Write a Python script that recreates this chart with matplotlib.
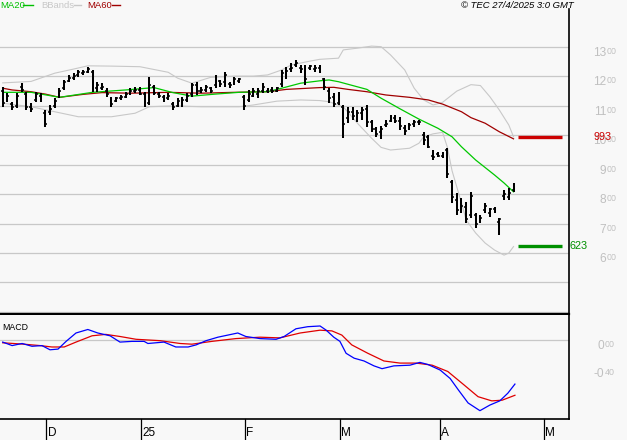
import numpy as np
import matplotlib.pyplot as plt
from matplotlib import transforms
from matplotlib.lines import Line2D

# --- данные (OHLC по торговым дням) ---
high = [1165, 1143, 1114, 1143, 1178, 1147, 1110, 1147, 1143, 1086,
        1103, 1127, 1161, 1188, 1205, 1212, 1222, 1222, 1232, 1222,
        1182, 1178, 1161, 1130, 1130, 1137, 1147, 1161, 1164, 1164,
        1147, 1198, 1171, 1147, 1137, 1143, 1113, 1127, 1130, 1143,
        1178, 1181, 1164, 1171, 1164, 1205, 1188, 1215, 1181, 1198,
        1195, 1137, 1154, 1161, 1161, 1178, 1161, 1164, 1164, 1222,
        1232, 1246, 1256, 1239, 1239, 1239, 1239, 1239, 1195, 1161,
        1143, 1147, 1103, 1096, 1096, 1086, 1096, 1103, 1052, 1028,
        1030, 1052, 1069, 1069, 1062, 1035, 1042, 1052, 1052, 1011,
        1001, 950, 943, 943, 957, 848, 804, 787, 773, 807,
        736, 729, 770, 753, 756, 719, 814, 821, 838]
low = [1097, 1114, 1086, 1093, 1147, 1086, 1079, 1113, 1113, 1028,
       1069, 1093, 1127, 1154, 1181, 1188, 1198, 1205, 1212, 1147,
       1148, 1154, 1130, 1096, 1113, 1120, 1127, 1137, 1143, 1137,
       1096, 1103, 1137, 1127, 1113, 1120, 1086, 1096, 1096, 1113,
       1130, 1137, 1143, 1147, 1143, 1161, 1164, 1164, 1161, 1171,
       1178, 1086, 1113, 1130, 1127, 1143, 1143, 1143, 1147, 1164,
       1192, 1215, 1232, 1212, 1171, 1222, 1215, 1212, 1154, 1110,
       1096, 1103, 991, 1042, 1052, 1045, 1052, 1028, 1011, 994,
       988, 1028, 1045, 1042, 1018, 1001, 1018, 1028, 1035, 967,
       957, 916, 926, 923, 855, 770, 729, 736, 702, 719,
       685, 702, 736, 722, 736, 661, 780, 780, 807]
opens = [1150, 1120, 1105, 1100, 1165, 1140, 1095, 1120, 1135, 1075,
         1080, 1100, 1135, 1160, 1185, 1195, 1205, 1210, 1215, 1215,
         1160, 1160, 1150, 1125, 1115, 1125, 1130, 1140, 1150, 1155,
         1140, 1110, 1165, 1140, 1130, 1125, 1105, 1100, 1105, 1120,
         1140, 1170, 1150, 1155, 1160, 1170, 1185, 1180, 1175, 1180,
         1185, 1130, 1120, 1135, 1140, 1150, 1150, 1155, 1150, 1175,
         1200, 1225, 1240, 1230, 1220, 1230, 1225, 1230, 1190, 1150,
         1130, 1110, 1095, 1060, 1080, 1060, 1075, 1090, 1045, 1020,
         1010, 1035, 1050, 1060, 1050, 1025, 1030, 1040, 1045, 1000,
         995, 930, 935, 930, 950, 840, 780, 765, 755, 730,
         730, 715, 745, 735, 750, 705, 795, 790, 815]
close = [1110, 1135, 1095, 1135, 1155, 1095, 1090, 1140, 1120, 1040,
         1090, 1115, 1150, 1180, 1195, 1200, 1215, 1215, 1225, 1155,
         1170, 1165, 1140, 1105, 1125, 1130, 1140, 1150, 1155, 1140,
         1105, 1170, 1145, 1135, 1120, 1135, 1095, 1115, 1120, 1135,
         1170, 1150, 1155, 1165, 1150, 1195, 1175, 1205, 1170, 1190,
         1190, 1100, 1140, 1150, 1150, 1165, 1155, 1150, 1160, 1210,
         1220, 1230, 1245, 1225, 1190, 1235, 1230, 1220, 1165, 1125,
         1105, 1135, 1040, 1080, 1065, 1075, 1085, 1045, 1020, 1005,
         1020, 1040, 1060, 1050, 1030, 1015, 1035, 1045, 1045, 985,
         960, 925, 930, 930, 870, 790, 745, 760, 715, 795,
         700, 720, 760, 750, 745, 715, 800, 805, 830]

# индикаторы (индекс дня, значение)
ma20_x = [0, 6, 12, 19, 26, 32, 36, 40, 45, 50, 56, 59, 63, 67, 69, 71,
          77, 80, 84, 88, 92, 95, 97, 100, 104, 106, 108]
ma20_y = [1146, 1146, 1129, 1146, 1154, 1162, 1145, 1133, 1140, 1146, 1148,
          1160, 1177, 1185, 1188, 1182, 1156, 1126, 1090, 1055, 1024, 995,
          961, 916, 865, 838, 808]
ma60_x = [0, 2, 6, 9, 12, 17, 21, 27, 35, 42, 49, 56, 60, 67, 70, 73,
          77, 81, 86, 90, 93, 97, 99, 102, 105, 108]
ma60_y = [1160, 1154, 1148, 1140, 1129, 1139, 1145, 1143, 1146, 1143, 1146,
          1148, 1156, 1162, 1163, 1156, 1148, 1137, 1129, 1120, 1106, 1080,
          1060, 1041, 1012, 988]
bbu_x = [0, 6, 11, 15, 18, 23, 29, 35, 37, 40, 44, 49, 53, 56, 59, 61,
         65, 67, 71, 72, 75, 78, 80, 82, 85, 87, 89, 91, 93, 96, 99, 101,
         103, 105, 107, 108]
bbu_y = [1178, 1183, 1211, 1225, 1236, 1235, 1233, 1214, 1194, 1177, 1197,
         1201, 1201, 1205, 1222, 1239, 1252, 1258, 1262, 1290, 1296, 1303,
         1301, 1273, 1222, 1160, 1120, 1103, 1112, 1150, 1172, 1169, 1131,
         1086, 1035, 995]
bbl_x = [0, 6, 11, 16, 23, 28, 31, 36, 42, 50, 53, 58, 63, 67, 69, 72,
         75, 78, 80, 82, 86, 88, 89, 91, 93, 94, 95, 97, 98, 100, 102,
         104, 106, 107, 108]
bbl_y = [1109, 1097, 1080, 1063, 1063, 1075, 1097, 1100, 1097, 1097, 1103,
         1116, 1120, 1118, 1114, 1097, 1041, 990, 959, 950, 956, 973, 995,
         1005, 1010, 960, 880, 770, 712, 668, 634, 610, 593, 600, 622]

macd_x = [0, 2, 4.1, 6.2, 8.3, 10, 11.7, 13.4, 15.5, 18, 20.1, 22.7, 24.8,
          27.3, 29.9, 30.7, 34.1, 36.6, 39.2, 40.9, 43, 45.5, 47.6, 49.7,
          51.4, 54.4, 57.8, 59.5, 62, 64.5, 67.1, 68.4, 70, 71.3, 72.6,
          74.3, 76.4, 78.5, 80.2, 82.7, 86.1, 88.2, 89.9, 92.5, 94.6, 96.3,
          98.4, 100.9, 103, 105.1, 106.8, 108.3]
macd_y = [-0.03, -0.08, -0.05, -0.09, -0.08, -0.14, -0.13, -0.02, 0.10, 0.15,
          0.10, 0.06, -0.03, -0.02, -0.02, -0.05, -0.03, -0.10, -0.10, -0.07,
          -0.01, 0.04, 0.07, 0.10, 0.05, 0.02, 0.01, 0.05, 0.16, 0.19, 0.20,
          0.14, 0.04, -0.02, -0.19, -0.26, -0.30, -0.37, -0.41, -0.37, -0.36,
          -0.32, -0.35, -0.43, -0.55, -0.71, -0.90, -1.01, -0.93, -0.87,
          -0.76, -0.63]
sig_x = [0, 4.5, 7.9, 10.4, 13, 15.5, 18.9, 21.8, 24.8, 28.2, 33.3, 37.5,
         40, 44.2, 49.3, 54.4, 58.6, 62.9, 67.1, 69.6, 71.7, 73.8, 77.2,
         80.6, 84, 87.4, 90.8, 94.1, 97.5, 100.5, 103.4, 105.6, 108.3]
sig_y = [-0.04, -0.06, -0.08, -0.10, -0.10, -0.03, 0.06, 0.08, 0.05, 0.01,
         -0.01, -0.05, -0.06, -0.02, 0.02, 0.04, 0.03, 0.10, 0.14, 0.13, 0.07,
         -0.07, -0.19, -0.30, -0.33, -0.33, -0.36, -0.45, -0.64, -0.81, -0.87,
         -0.86, -0.79]

month_pos = [9.2, 29.2, 51.2, 71.3, 92.4, 114.4]
month_labels = ['D', '25', 'F', 'M', 'A', 'M']
price_ticks = [1300, 1200, 1100, 1000, 900, 800, 700, 600]
grid_levels = [400, 500, 600, 700, 800, 900, 1000, 1100, 1200, 1300]
last_ma60 = 993
last_bbl = 623

bg = '#f8f8f8'
W, H = 627, 440
plt.rcParams['font.family'] = ['Liberation Sans', 'DejaVu Sans']

fig = plt.figure(figsize=(W / 100, H / 100), dpi=100, facecolor=bg)


def fx(px):
    return px / W


def fy(py):
    return 1 - py / H


ax = fig.add_axes([0, fy(314), fx(569), fy(9) - fy(314)], facecolor=bg)
axm = fig.add_axes([0, fy(419), fx(569), fy(315) - fy(419)], facecolor=bg)

n = len(close)
idx = np.arange(n)
xlim = (-0.57, 119.73)

# --- верхняя панель: цены ---
for lv in grid_levels:
    ax.axhline(lv, color='#c8c8c8', lw=0.9, zorder=0)

ax.plot(bbu_x, bbu_y, color='#c8c8c8', lw=0.8, zorder=1)
ax.plot(bbl_x, bbl_y, color='#c8c8c8', lw=0.8, zorder=1)
ax.plot(ma60_x, ma60_y, color='#a00000', lw=0.9, zorder=2)
ax.plot(ma20_x, ma20_y, color='#00c800', lw=0.9, zorder=2)

ax.vlines(idx, low, high, color='black', lw=1.45, zorder=3)
ax.hlines(opens, idx - 0.4, idx, color='black', lw=1.1, zorder=3)
ax.hlines(close, idx, idx + 0.4, color='black', lw=1.1, zorder=3)

ax.hlines(last_ma60, n, n + 9.2, color='#cc0000', lw=2.4)
ax.hlines(last_bbl, n, n + 9.2, color='#009000', lw=2.4)

ax.set_xlim(*xlim)
ax.set_ylim(393, 1429)
ax.set_xticks([])
ax.set_yticks([])
for s in ['top', 'left']:
    ax.spines[s].set_visible(False)
ax.spines['right'].set_linewidth(1.2)
ax.spines['bottom'].set_linewidth(1.6)


def split_label(axis, val, big, small, split_px, color='#c0c0c0'):
    tr = transforms.blended_transform_factory(axis.transAxes, axis.transData)
    tr = transforms.offset_copy(tr, fig=fig, y=0, units='dots')
    xa = split_px / 569
    axis.text(xa, val, big, transform=tr, ha='right', va='top',
              fontsize=8.6, color=color, clip_on=False)
    axis.text(xa + 1 / 569, val, small, transform=tr, ha='left', va='top',
              fontsize=6.4, color=color, clip_on=False)


for v in price_ticks:
    split_label(ax, v, str(v // 100), '00', 606)

trv = transforms.blended_transform_factory(ax.transAxes, ax.transData)
ax.text(593 / 569, last_ma60, str(last_ma60), transform=trv, ha='left',
        va='center', fontsize=7.8, color='#cc0000', clip_on=False)
ax.text(570 / 569, last_bbl, str(last_bbl), transform=trv, ha='left',
        va='center', fontsize=7.8, color='#009000', clip_on=False)

# --- нижняя панель: MACD ---
axm.axhline(0, color='#c8c8c8', lw=0.9, zorder=0)
axm.plot(sig_x, sig_y, color='#e00000', lw=0.9)
axm.plot(macd_x, macd_y, color='#0000ff', lw=0.9)
axm.set_xlim(*xlim)
axm.set_ylim(-1.129, 0.357)
axm.set_xticks([])
axm.set_yticks([])
axm.spines['top'].set_visible(False)
axm.spines['left'].set_visible(False)
axm.spines['right'].set_linewidth(1.2)
axm.spines['bottom'].set_linewidth(1.2)
axm.text(2 / 569, 0.88, 'MACD', transform=axm.transAxes, fontsize=6.3,
         ha='left', va='center')

split_label(axm, 0, '0', '00', 604)
split_label(axm, -0.4, '-0', '40', 604)

# месячные отметки под осью
trm = transforms.blended_transform_factory(axm.transData, axm.transAxes)
for p, lab in zip(month_pos, month_labels):
    axm.add_line(Line2D([p, p], [0, -0.205], transform=trm, color='black',
                        lw=0.9, clip_on=False))
    axm.text(p + 0.3, -0.13, lab, transform=trm, ha='left', va='center',
             fontsize=8.5, clip_on=False)

# --- легенда и подпись ---
leg = [('MA20', '#00c000', 0, 23, 33), ('BBands', '#c8c8c8', 41, 74, 81),
       ('MA60', '#a00000', 87, 112, 120)]
for lab, col, x0, d0, d1 in leg:
    fig.text(fx(x0), fy(5), lab, color=col, fontsize=6.8, ha='left',
             va='center')
    fig.add_artist(Line2D([fx(d0), fx(d1)], [fy(5), fy(5)], color=col, lw=1))

fig.text(fx(574), fy(5), '\u00a9 TEC 27/4/2025 3:0 GMT', fontsize=6.8,
         style='italic', ha='right', va='center')

fig.savefig('out.png', dpi=100, facecolor=bg)
